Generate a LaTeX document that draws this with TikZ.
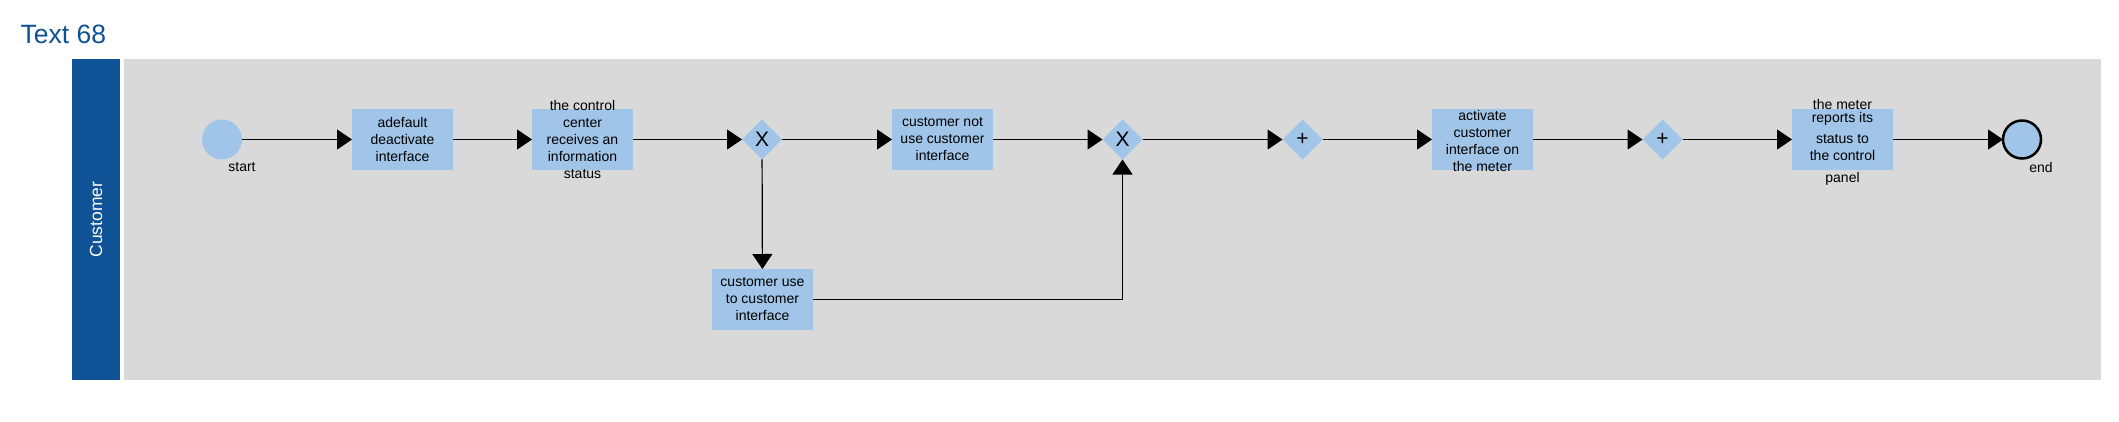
\documentclass[tikz,border=0pt]{standalone}
\usepackage{fontspec}
\setmainfont{Liberation Sans}
\usetikzlibrary{arrows.meta,shapes.geometric}
\definecolor{laneblue}{HTML}{0F5396}
\definecolor{poolgray}{HTML}{D9D9D9}
\definecolor{taskblue}{HTML}{A0C5E8}
\begin{document}
\begin{tikzpicture}[x=1pt,y=-1pt,
  task/.style={fill=taskblue, minimum width=101pt, minimum height=61pt, inner sep=0pt, outer sep=0pt},
  tasktext/.style={align=center, font=\fontsize{14}{17}\selectfont, inner sep=0pt},
  gw/.style={diamond, fill=taskblue, minimum width=40pt, minimum height=40pt, inner sep=0pt, outer sep=0pt, font=\fontsize{21}{21}\selectfont},
  flow/.style={line width=1.2pt, -{Triangle[length=15pt,width=20pt]}},
  lbl/.style={font=\fontsize{14}{17}\selectfont, inner sep=0pt},
  evstart/.style={circle, fill=taskblue, minimum size=40pt, inner sep=0pt, outer sep=0pt},
  evend/.style={circle, fill=taskblue, draw=black, line width=2.5pt, minimum size=38pt, inner sep=0pt, outer sep=0pt},
]
\useasboundingbox (0,0) rectangle (2119,421);
\fill[white] (0,0) rectangle (2119,421);
\node[anchor=west, text=laneblue, font=\fontsize{26.5}{30}\selectfont, inner sep=0pt] (title) at (20.5,34.5) {Text 68};
\node[fill=laneblue, minimum width=48pt, minimum height=321pt, inner sep=0pt, outer sep=0pt] (lane) at (96,219.5) {};
\node[rotate=90, text=white, font=\fontsize{17.5}{17.5}\selectfont, inner sep=0pt] (lanetext) at (lane) {Customer};
\node[fill=poolgray, minimum width=1977pt, minimum height=321pt, inner sep=0pt, outer sep=0pt] (pool) at (1112.5,219.5) {};

\node[evstart] (start) at (222,139.5) {};
\node[lbl] (startlbl) at (242,167) {start};

\node[task] (t1) at (402.5,139.5) {};
\node[tasktext] (t1text) at (t1) {adefault\\deactivate\\interface};

\node[task] (t2) at (582.5,139.5) {};
\node[tasktext] (t2text) at (t2) {the control\\center\\receives an\\information\\status};

\node[gw] (g1) at (762,139.5) {X};

\node[task] (t3) at (942.5,139.5) {};
\node[tasktext] (t3text) at (t3) {customer not\\use customer\\interface};

\node[task] (t4) at (762.5,299.5) {};
\node[tasktext] (t4text) at (t4) {customer use\\to customer\\interface};

\node[gw] (g2) at (1122.5,139.5) {X};
\node[gw] (g3) at (1302.5,139.5) {+};

\node[task] (t5) at (1482.5,139.5) {};
\node[tasktext] (t5text) at (1482.5,140.5) {activate\\customer\\interface on\\the meter};

\node[gw] (g4) at (1662.5,139.5) {+};

\node[task] (t6) at (1842.5,139.5) {};
\node[tasktext] (t6text) at (1842.5,142.5) {the meter\\[-4pt]reports its\\[4pt]status to\\the control\\[5pt]panel};

\node[evend] (end) at (2022,139.5) {};
\node[lbl] (endlbl) at (2041,167) {end};

\draw[flow] (start) -- (t1);
\draw[flow] (t1) -- (t2);
\draw[flow] (t2) -- (g1);
\draw[flow] (g1) -- (t3);
\draw[flow] (g1) -- (t4);
\draw[flow] (t3) -- (g2);
\draw[flow] (t4.east) -| (g2.south);
\draw[flow] (g2) -- (g3);
\draw[flow] (g3) -- (t5);
\draw[flow] (t5) -- (g4);
\draw[flow] (g4) -- (t6);
\draw[flow] (t6) -- (end);
\end{tikzpicture}
\end{document}
